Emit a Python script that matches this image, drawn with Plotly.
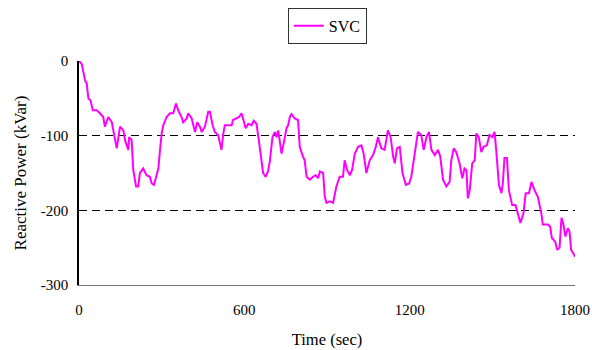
import plotly.graph_objects as go

time_sec = [0, 10, 22, 28, 34, 42, 50, 64, 76, 88, 94, 106, 119, 124, 137, 149, 161, 167, 179, 182,
            191, 197, 207, 215, 221, 233, 245, 257, 264, 272, 279, 288, 294, 300, 306, 318, 330, 342, 352, 360,
            372, 378, 391, 396, 409, 421, 429, 439, 445, 457, 469, 475, 485, 493, 505, 517, 523, 529, 541, 554,
            559, 572, 581, 590, 596, 605, 614, 626, 634, 644, 654, 662, 668, 677, 686, 693, 702, 711, 717, 723,
            729, 735, 743, 753, 759, 765, 771, 783, 795, 801, 813, 819, 826, 838, 849, 859, 868, 874, 886, 892,
            898, 910, 922, 934, 946, 958, 964, 973, 983, 991, 1001, 1013, 1025, 1033, 1043, 1055, 1067, 1077, 1085, 1097,
            1109, 1121, 1131, 1140, 1146, 1154, 1164, 1174, 1186, 1198, 1206, 1218, 1230, 1242, 1251, 1261, 1270, 1279, 1291, 1303,
            1311, 1321, 1333, 1345, 1351, 1360, 1369, 1381, 1391, 1399, 1406, 1411, 1418, 1427, 1436, 1442, 1451, 1460, 1468, 1480,
            1490, 1500, 1508, 1514, 1520, 1524, 1533, 1538, 1544, 1553, 1560, 1572, 1584, 1593, 1602, 1613, 1621, 1633, 1642, 1653,
            1665, 1678, 1683, 1702, 1710, 1716, 1728, 1736, 1744, 1751, 1758, 1765, 1774, 1780, 1786, 1796, 1800]

svc_kvar = [0, -4, -26, -30, -50, -53, -66, -66, -70, -75, -88, -75, -82, -93, -117, -88, -93, -106, -119, -102,
            -106, -146, -168, -168, -150, -144, -153, -155, -164, -166, -155, -144, -119, -97, -86, -75, -70, -70, -57, -66,
            -75, -82, -77, -70, -77, -95, -82, -88, -95, -88, -68, -68, -86, -95, -99, -119, -99, -86, -86, -86,
            -79, -77, -75, -70, -77, -90, -84, -86, -80, -84, -110, -133, -150, -155, -148, -133, -102, -95, -102, -93,
            -106, -124, -110, -90, -86, -75, -71, -77, -79, -115, -128, -133, -155, -159, -155, -153, -157, -148, -150, -182,
            -190, -188, -190, -168, -155, -155, -133, -146, -153, -146, -124, -115, -113, -124, -150, -133, -126, -115, -102, -117,
            -119, -93, -102, -128, -137, -117, -115, -150, -166, -164, -155, -124, -95, -99, -119, -102, -95, -119, -126, -119,
            -128, -159, -168, -162, -133, -117, -122, -137, -157, -144, -146, -184, -173, -137, -133, -97, -102, -122, -115, -113,
            -99, -102, -95, -119, -142, -166, -177, -164, -130, -130, -173, -193, -193, -206, -217, -204, -177, -177, -162, -173,
            -182, -204, -219, -219, -222, -237, -242, -253, -250, -210, -219, -235, -224, -228, -253, -259, -262]

x_ticks = [0, 600, 1200, 1800]
y_ticks = [0, -100, -200, -300]

FONT = "Liberation Serif, Times New Roman, serif"

fig = go.Figure()
fig.add_trace(go.Scatter(
    x=time_sec, y=svc_kvar, mode="lines", name="SVC",
    line=dict(color="#FF00FF", width=2),
))

fig.update_layout(
    width=592, height=350,
    margin=dict(l=79, r=17, t=61, b=65, autoexpand=False),
    paper_bgcolor="white", plot_bgcolor="white",
    font=dict(family=FONT, size=15, color="black"),
    showlegend=True,
    legend=dict(
        x=0.421, y=1.237, xanchor="left", yanchor="top",
        bordercolor="#333333", borderwidth=1, bgcolor="white",
        font=dict(family=FONT, size=16, color="black"),
        itemwidth=30, tracegroupgap=0,
    ),
    xaxis=dict(
        range=[0, 1800], tickvals=x_ticks, ticktext=[str(v) for v in x_ticks],
        ticks="", showgrid=False, zeroline=False, automargin=False,
        showline=True, linecolor="#777777", linewidth=1,
        ticklabelstandoff=11,
        tickfont=dict(family=FONT, size=15),
        title=dict(text="Time (sec)", standoff=16, font=dict(family=FONT, size=16.5)),
    ),
    xaxis2=dict(
        range=[0, 1800], tickvals=x_ticks, overlaying="x", side="top",
        ticks="outside", ticklen=5, tickcolor="black", tickwidth=1,
        showticklabels=False, showgrid=False, zeroline=False, automargin=False,
        showline=True, linecolor="black", linewidth=1.5,
    ),
    yaxis=dict(
        range=[-300, 0], tickvals=y_ticks, ticktext=[str(v) for v in y_ticks],
        ticks="", zeroline=False, automargin=False,
        showgrid=True, gridcolor="black", gridwidth=1, griddash="8px,5px",
        showline=True, linecolor="black", linewidth=1.5,
        ticklabelstandoff=6,
        tickfont=dict(family=FONT, size=15),
        title=dict(text="Reactive Power (kVar)", standoff=10, font=dict(family=FONT, size=17)),
    ),
    yaxis2=dict(
        range=[-300, 0], overlaying="y", side="right",
        ticks="", showticklabels=False, showgrid=False, zeroline=False, automargin=False,
        showline=True, linecolor="#777777", linewidth=1,
    ),
)

fig.write_html("out.html")
